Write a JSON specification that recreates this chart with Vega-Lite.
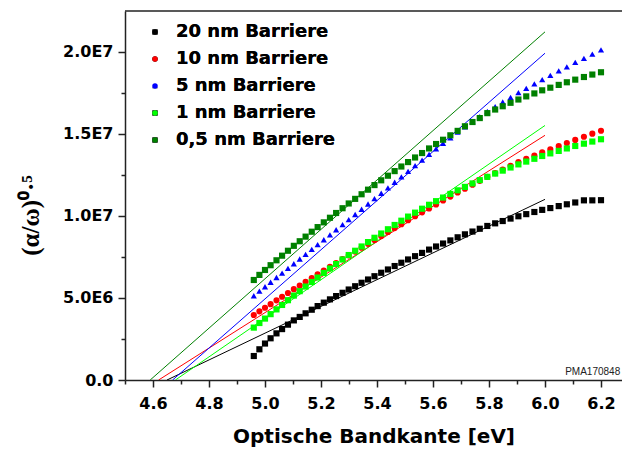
{
  "$schema": "https://vega.github.io/schema/vega-lite/v6.json",
  "width": 497,
  "height": 369,
  "autosize": {"type": "none"},
  "padding": {"left": 125, "top": 11, "right": 0, "bottom": 72},
  "background": "white",
  "config": {
    "view": {"stroke": null},
    "axis": {"domainColor": "#222", "domainWidth": 1.5, "tickColor": "#222", "tickWidth": 1.5, "grid": false, "labelColor": "black", "titleColor": "black"}
  },
  "datasets": {
    "pts": [
      {"s":"20 nm Barriere","E":4.960,"v":1460000},{"s":"20 nm Barriere","E":4.980,"v":1870000},{"s":"20 nm Barriere","E":5.000,"v":2220000},{"s":"20 nm Barriere","E":5.020,"v":2540000},{"s":"20 nm Barriere","E":5.041,"v":2840000},{"s":"20 nm Barriere","E":5.061,"v":3100000},{"s":"20 nm Barriere","E":5.082,"v":3370000},{"s":"20 nm Barriere","E":5.103,"v":3630000},{"s":"20 nm Barriere","E":5.124,"v":3840000},{"s":"20 nm Barriere","E":5.145,"v":4060000},{"s":"20 nm Barriere","E":5.167,"v":4280000},{"s":"20 nm Barriere","E":5.188,"v":4500000},{"s":"20 nm Barriere","E":5.210,"v":4710000},{"s":"20 nm Barriere","E":5.232,"v":4910000},{"s":"20 nm Barriere","E":5.254,"v":5110000},{"s":"20 nm Barriere","E":5.277,"v":5310000},{"s":"20 nm Barriere","E":5.299,"v":5510000},{"s":"20 nm Barriere","E":5.322,"v":5710000},{"s":"20 nm Barriere","E":5.345,"v":5920000},{"s":"20 nm Barriere","E":5.368,"v":6120000},{"s":"20 nm Barriere","E":5.391,"v":6320000},{"s":"20 nm Barriere","E":5.415,"v":6530000},{"s":"20 nm Barriere","E":5.439,"v":6730000},{"s":"20 nm Barriere","E":5.463,"v":6940000},{"s":"20 nm Barriere","E":5.487,"v":7140000},{"s":"20 nm Barriere","E":5.511,"v":7340000},{"s":"20 nm Barriere","E":5.536,"v":7540000},{"s":"20 nm Barriere","E":5.561,"v":7740000},{"s":"20 nm Barriere","E":5.586,"v":7940000},{"s":"20 nm Barriere","E":5.611,"v":8130000},{"s":"20 nm Barriere","E":5.636,"v":8310000},{"s":"20 nm Barriere","E":5.662,"v":8500000},{"s":"20 nm Barriere","E":5.688,"v":8690000},{"s":"20 nm Barriere","E":5.714,"v":8870000},{"s":"20 nm Barriere","E":5.741,"v":9040000},{"s":"20 nm Barriere","E":5.767,"v":9210000},{"s":"20 nm Barriere","E":5.794,"v":9380000},{"s":"20 nm Barriere","E":5.822,"v":9540000},{"s":"20 nm Barriere","E":5.849,"v":9680000},{"s":"20 nm Barriere","E":5.877,"v":9830000},{"s":"20 nm Barriere","E":5.905,"v":9970000},{"s":"20 nm Barriere","E":5.933,"v":10100000},{"s":"20 nm Barriere","E":5.962,"v":10230000},{"s":"20 nm Barriere","E":5.990,"v":10360000},{"s":"20 nm Barriere","E":6.019,"v":10470000},{"s":"20 nm Barriere","E":6.049,"v":10590000},{"s":"20 nm Barriere","E":6.078,"v":10700000},{"s":"20 nm Barriere","E":6.108,"v":10810000},{"s":"20 nm Barriere","E":6.139,"v":10940000},{"s":"20 nm Barriere","E":6.169,"v":10940000},{"s":"20 nm Barriere","E":6.200,"v":10950000},
      {"s":"10 nm Barriere","E":4.960,"v":3960000},{"s":"10 nm Barriere","E":4.980,"v":4180000},{"s":"10 nm Barriere","E":5.000,"v":4400000},{"s":"10 nm Barriere","E":5.020,"v":4620000},{"s":"10 nm Barriere","E":5.041,"v":4850000},{"s":"10 nm Barriere","E":5.061,"v":5070000},{"s":"10 nm Barriere","E":5.082,"v":5300000},{"s":"10 nm Barriere","E":5.103,"v":5530000},{"s":"10 nm Barriere","E":5.124,"v":5750000},{"s":"10 nm Barriere","E":5.145,"v":5980000},{"s":"10 nm Barriere","E":5.167,"v":6210000},{"s":"10 nm Barriere","E":5.188,"v":6430000},{"s":"10 nm Barriere","E":5.210,"v":6660000},{"s":"10 nm Barriere","E":5.232,"v":6890000},{"s":"10 nm Barriere","E":5.254,"v":7120000},{"s":"10 nm Barriere","E":5.277,"v":7360000},{"s":"10 nm Barriere","E":5.299,"v":7590000},{"s":"10 nm Barriere","E":5.322,"v":7820000},{"s":"10 nm Barriere","E":5.345,"v":8060000},{"s":"10 nm Barriere","E":5.368,"v":8290000},{"s":"10 nm Barriere","E":5.391,"v":8530000},{"s":"10 nm Barriere","E":5.415,"v":8770000},{"s":"10 nm Barriere","E":5.439,"v":9010000},{"s":"10 nm Barriere","E":5.463,"v":9250000},{"s":"10 nm Barriere","E":5.487,"v":9490000},{"s":"10 nm Barriere","E":5.511,"v":9730000},{"s":"10 nm Barriere","E":5.536,"v":9970000},{"s":"10 nm Barriere","E":5.561,"v":10210000},{"s":"10 nm Barriere","E":5.586,"v":10450000},{"s":"10 nm Barriere","E":5.611,"v":10690000},{"s":"10 nm Barriere","E":5.636,"v":10930000},{"s":"10 nm Barriere","E":5.662,"v":11170000},{"s":"10 nm Barriere","E":5.688,"v":11420000},{"s":"10 nm Barriere","E":5.714,"v":11650000},{"s":"10 nm Barriere","E":5.741,"v":11890000},{"s":"10 nm Barriere","E":5.767,"v":12130000},{"s":"10 nm Barriere","E":5.794,"v":12370000},{"s":"10 nm Barriere","E":5.822,"v":12600000},{"s":"10 nm Barriere","E":5.849,"v":12820000},{"s":"10 nm Barriere","E":5.877,"v":13040000},{"s":"10 nm Barriere","E":5.905,"v":13270000},{"s":"10 nm Barriere","E":5.933,"v":13470000},{"s":"10 nm Barriere","E":5.962,"v":13660000},{"s":"10 nm Barriere","E":5.990,"v":13860000},{"s":"10 nm Barriere","E":6.019,"v":14050000},{"s":"10 nm Barriere","E":6.049,"v":14240000},{"s":"10 nm Barriere","E":6.078,"v":14430000},{"s":"10 nm Barriere","E":6.108,"v":14620000},{"s":"10 nm Barriere","E":6.139,"v":14810000},{"s":"10 nm Barriere","E":6.169,"v":15000000},{"s":"10 nm Barriere","E":6.200,"v":15180000},
      {"s":"5 nm Barriere","E":4.960,"v":5130000},{"s":"5 nm Barriere","E":4.980,"v":5410000},{"s":"5 nm Barriere","E":5.000,"v":5680000},{"s":"5 nm Barriere","E":5.020,"v":5950000},{"s":"5 nm Barriere","E":5.041,"v":6240000},{"s":"5 nm Barriere","E":5.061,"v":6510000},{"s":"5 nm Barriere","E":5.082,"v":6800000},{"s":"5 nm Barriere","E":5.103,"v":7080000},{"s":"5 nm Barriere","E":5.124,"v":7370000},{"s":"5 nm Barriere","E":5.145,"v":7650000},{"s":"5 nm Barriere","E":5.167,"v":7950000},{"s":"5 nm Barriere","E":5.188,"v":8240000},{"s":"5 nm Barriere","E":5.210,"v":8540000},{"s":"5 nm Barriere","E":5.232,"v":8840000},{"s":"5 nm Barriere","E":5.254,"v":9150000},{"s":"5 nm Barriere","E":5.277,"v":9460000},{"s":"5 nm Barriere","E":5.299,"v":9770000},{"s":"5 nm Barriere","E":5.322,"v":10080000},{"s":"5 nm Barriere","E":5.345,"v":10400000},{"s":"5 nm Barriere","E":5.368,"v":10720000},{"s":"5 nm Barriere","E":5.391,"v":11040000},{"s":"5 nm Barriere","E":5.415,"v":11370000},{"s":"5 nm Barriere","E":5.439,"v":11700000},{"s":"5 nm Barriere","E":5.463,"v":12040000},{"s":"5 nm Barriere","E":5.487,"v":12370000},{"s":"5 nm Barriere","E":5.511,"v":12700000},{"s":"5 nm Barriere","E":5.536,"v":13050000},{"s":"5 nm Barriere","E":5.561,"v":13390000},{"s":"5 nm Barriere","E":5.586,"v":13740000},{"s":"5 nm Barriere","E":5.611,"v":14080000},{"s":"5 nm Barriere","E":5.636,"v":14410000},{"s":"5 nm Barriere","E":5.662,"v":14750000},{"s":"5 nm Barriere","E":5.688,"v":15090000},{"s":"5 nm Barriere","E":5.714,"v":15410000},{"s":"5 nm Barriere","E":5.741,"v":15730000},{"s":"5 nm Barriere","E":5.767,"v":16030000},{"s":"5 nm Barriere","E":5.794,"v":16350000},{"s":"5 nm Barriere","E":5.822,"v":16650000},{"s":"5 nm Barriere","E":5.849,"v":16930000},{"s":"5 nm Barriere","E":5.877,"v":17210000},{"s":"5 nm Barriere","E":5.905,"v":17500000},{"s":"5 nm Barriere","E":5.933,"v":17760000},{"s":"5 nm Barriere","E":5.962,"v":18030000},{"s":"5 nm Barriere","E":5.990,"v":18290000},{"s":"5 nm Barriere","E":6.019,"v":18550000},{"s":"5 nm Barriere","E":6.049,"v":18820000},{"s":"5 nm Barriere","E":6.078,"v":19070000},{"s":"5 nm Barriere","E":6.108,"v":19340000},{"s":"5 nm Barriere","E":6.139,"v":19590000},{"s":"5 nm Barriere","E":6.169,"v":19840000},{"s":"5 nm Barriere","E":6.200,"v":20100000},
      {"s":"1 nm Barriere","E":4.960,"v":3190000},{"s":"1 nm Barriere","E":4.980,"v":3470000},{"s":"1 nm Barriere","E":5.000,"v":3740000},{"s":"1 nm Barriere","E":5.020,"v":4010000},{"s":"1 nm Barriere","E":5.041,"v":4300000},{"s":"1 nm Barriere","E":5.061,"v":4570000},{"s":"1 nm Barriere","E":5.082,"v":4860000},{"s":"1 nm Barriere","E":5.103,"v":5140000},{"s":"1 nm Barriere","E":5.124,"v":5410000},{"s":"1 nm Barriere","E":5.145,"v":5690000},{"s":"1 nm Barriere","E":5.167,"v":5970000},{"s":"1 nm Barriere","E":5.188,"v":6240000},{"s":"1 nm Barriere","E":5.210,"v":6520000},{"s":"1 nm Barriere","E":5.232,"v":6790000},{"s":"1 nm Barriere","E":5.254,"v":7060000},{"s":"1 nm Barriere","E":5.277,"v":7340000},{"s":"1 nm Barriere","E":5.299,"v":7610000},{"s":"1 nm Barriere","E":5.322,"v":7870000},{"s":"1 nm Barriere","E":5.345,"v":8130000},{"s":"1 nm Barriere","E":5.368,"v":8400000},{"s":"1 nm Barriere","E":5.391,"v":8660000},{"s":"1 nm Barriere","E":5.415,"v":8920000},{"s":"1 nm Barriere","E":5.439,"v":9180000},{"s":"1 nm Barriere","E":5.463,"v":9440000},{"s":"1 nm Barriere","E":5.487,"v":9700000},{"s":"1 nm Barriere","E":5.511,"v":9950000},{"s":"1 nm Barriere","E":5.536,"v":10190000},{"s":"1 nm Barriere","E":5.561,"v":10430000},{"s":"1 nm Barriere","E":5.586,"v":10670000},{"s":"1 nm Barriere","E":5.611,"v":10890000},{"s":"1 nm Barriere","E":5.636,"v":11110000},{"s":"1 nm Barriere","E":5.662,"v":11330000},{"s":"1 nm Barriere","E":5.688,"v":11550000},{"s":"1 nm Barriere","E":5.714,"v":11760000},{"s":"1 nm Barriere","E":5.741,"v":11970000},{"s":"1 nm Barriere","E":5.767,"v":12170000},{"s":"1 nm Barriere","E":5.794,"v":12370000},{"s":"1 nm Barriere","E":5.822,"v":12570000},{"s":"1 nm Barriere","E":5.849,"v":12750000},{"s":"1 nm Barriere","E":5.877,"v":12940000},{"s":"1 nm Barriere","E":5.905,"v":13130000},{"s":"1 nm Barriere","E":5.933,"v":13300000},{"s":"1 nm Barriere","E":5.962,"v":13470000},{"s":"1 nm Barriere","E":5.990,"v":13640000},{"s":"1 nm Barriere","E":6.019,"v":13800000},{"s":"1 nm Barriere","E":6.049,"v":13950000},{"s":"1 nm Barriere","E":6.078,"v":14100000},{"s":"1 nm Barriere","E":6.108,"v":14250000},{"s":"1 nm Barriere","E":6.139,"v":14390000},{"s":"1 nm Barriere","E":6.169,"v":14520000},{"s":"1 nm Barriere","E":6.200,"v":14660000},
      {"s":"0,5 nm Barriere","E":4.960,"v":6090000},{"s":"0,5 nm Barriere","E":4.980,"v":6400000},{"s":"0,5 nm Barriere","E":5.000,"v":6700000},{"s":"0,5 nm Barriere","E":5.020,"v":6990000},{"s":"0,5 nm Barriere","E":5.041,"v":7290000},{"s":"0,5 nm Barriere","E":5.061,"v":7570000},{"s":"0,5 nm Barriere","E":5.082,"v":7870000},{"s":"0,5 nm Barriere","E":5.103,"v":8170000},{"s":"0,5 nm Barriere","E":5.124,"v":8450000},{"s":"0,5 nm Barriere","E":5.145,"v":8730000},{"s":"0,5 nm Barriere","E":5.167,"v":9030000},{"s":"0,5 nm Barriere","E":5.188,"v":9310000},{"s":"0,5 nm Barriere","E":5.210,"v":9600000},{"s":"0,5 nm Barriere","E":5.232,"v":9880000},{"s":"0,5 nm Barriere","E":5.254,"v":10170000},{"s":"0,5 nm Barriere","E":5.277,"v":10460000},{"s":"0,5 nm Barriere","E":5.299,"v":10750000},{"s":"0,5 nm Barriere","E":5.322,"v":11030000},{"s":"0,5 nm Barriere","E":5.345,"v":11310000},{"s":"0,5 nm Barriere","E":5.368,"v":11590000},{"s":"0,5 nm Barriere","E":5.391,"v":11870000},{"s":"0,5 nm Barriere","E":5.415,"v":12160000},{"s":"0,5 nm Barriere","E":5.439,"v":12440000},{"s":"0,5 nm Barriere","E":5.463,"v":12720000},{"s":"0,5 nm Barriere","E":5.487,"v":13000000},{"s":"0,5 nm Barriere","E":5.511,"v":13270000},{"s":"0,5 nm Barriere","E":5.536,"v":13550000},{"s":"0,5 nm Barriere","E":5.561,"v":13820000},{"s":"0,5 nm Barriere","E":5.586,"v":14100000},{"s":"0,5 nm Barriere","E":5.611,"v":14370000},{"s":"0,5 nm Barriere","E":5.636,"v":14630000},{"s":"0,5 nm Barriere","E":5.662,"v":14900000},{"s":"0,5 nm Barriere","E":5.688,"v":15170000},{"s":"0,5 nm Barriere","E":5.714,"v":15450000},{"s":"0,5 nm Barriere","E":5.741,"v":15710000},{"s":"0,5 nm Barriere","E":5.767,"v":15950000},{"s":"0,5 nm Barriere","E":5.794,"v":16250000},{"s":"0,5 nm Barriere","E":5.822,"v":16470000},{"s":"0,5 nm Barriere","E":5.849,"v":16670000},{"s":"0,5 nm Barriere","E":5.877,"v":16880000},{"s":"0,5 nm Barriere","E":5.905,"v":17080000},{"s":"0,5 nm Barriere","E":5.933,"v":17270000},{"s":"0,5 nm Barriere","E":5.962,"v":17450000},{"s":"0,5 nm Barriere","E":5.990,"v":17640000},{"s":"0,5 nm Barriere","E":6.019,"v":17800000},{"s":"0,5 nm Barriere","E":6.049,"v":17970000},{"s":"0,5 nm Barriere","E":6.078,"v":18130000},{"s":"0,5 nm Barriere","E":6.108,"v":18290000},{"s":"0,5 nm Barriere","E":6.139,"v":18450000},{"s":"0,5 nm Barriere","E":6.169,"v":18600000},{"s":"0,5 nm Barriere","E":6.200,"v":18740000}
    ],
    "fits": [
      {"s":"20 nm Barriere","E":4.650,"v":0},{"s":"20 nm Barriere","E":6.0,"v":11000000},
      {"s":"10 nm Barriere","E":4.620,"v":0},{"s":"10 nm Barriere","E":6.0,"v":14900000},
      {"s":"5 nm Barriere","E":4.670,"v":0},{"s":"5 nm Barriere","E":6.0,"v":19900000},
      {"s":"1 nm Barriere","E":4.680,"v":0},{"s":"1 nm Barriere","E":6.0,"v":15500000},
      {"s":"0,5 nm Barriere","E":4.590,"v":0},{"s":"0,5 nm Barriere","E":6.0,"v":21200000}
    ],
    "note": [{"E": 6.072, "v": 300000, "t": "PMA170848"}]
  },
  "layer": [
    {
      "data": {"name": "fits"},
      "mark": {"type": "line", "strokeWidth": 1, "clip": true},
      "encoding": {
        "x": {"field": "E", "type": "quantitative", "scale": {"domain": [4.5, 6.275], "nice": false, "zero": false},
          "axis": {
            "orient": "bottom",
            "title": "Optische Bandkante [eV]",
            "values": [4.6,4.8,5.0,5.2,5.4,5.6,5.8,6.0,6.2],
            "format": ".1f",
            "tickSize": 7,
            "labelOverlap": false,
            "labelFont": "DejaVu Sans", "labelFontSize": 16, "labelFontWeight": "bold", "labelPadding": 8,
            "titleFont": "DejaVu Sans", "titleFontSize": 20, "titleFontWeight": "bold", "titlePadding": 15
          }
        },
        "y": {"field": "v", "type": "quantitative", "scale": {"domain": [0, 22470000], "nice": false, "zero": true},
          "axis": {
            "orient": "left",
            "title": "(α/ω)⁰·⁵",
            "values": [0,5000000,10000000,15000000,20000000],
            "labelExpr": "datum.value == 0 ? '0.0' : replace(format(datum.value, '.1e'), 'e+', 'E')",
            "tickSize": 7,
            "labelOverlap": false,
            "labelFont": "DejaVu Sans", "labelFontSize": 16, "labelFontWeight": "bold", "labelPadding": 5,
            "titleFont": "Liberation Serif", "titleFontSize": 25, "titleFontWeight": "bold",
            "titleX": -82, "titleY": 204, "titleAngle": 270, "titleBaseline": "bottom", "titleAlign": "center"
          }
        },
        "color": {"field": "s", "type": "nominal", "legend": null,
          "scale": {"domain": ["20 nm Barriere","10 nm Barriere","5 nm Barriere","1 nm Barriere","0,5 nm Barriere"], "range": ["#000000","#ff0000","#0000ff","#00ff00","#008000"]}},
        "detail": {"field": "s"}
      }
    },
    {
      "data": {"name": "pts"},
      "mark": {"type": "point", "filled": true, "opacity": 1, "size": 38},
      "encoding": {
        "x": {"field": "E", "type": "quantitative", "axis": null},
        "y": {"field": "v", "type": "quantitative", "axis": null},
        "color": {"field": "s", "type": "nominal",
          "scale": {"domain": ["20 nm Barriere","10 nm Barriere","5 nm Barriere","1 nm Barriere","0,5 nm Barriere"], "range": ["#000000","#ff0000","#0000ff","#00ff00","#008000"]},
          "legend": {"orient": "none", "legendX": 21, "legendY": 12, "title": null, "padding": 0,
            "labelFont": "DejaVu Sans", "labelFontSize": 18, "labelFontWeight": "bold", "labelColor": "black",
            "symbolSize": 30, "rowPadding": 9, "labelOffset": 12, "symbolStrokeWidth": 0}},
        "shape": {"field": "s", "type": "nominal",
          "scale": {"domain": ["20 nm Barriere","10 nm Barriere","5 nm Barriere","1 nm Barriere","0,5 nm Barriere"], "range": ["square","circle","triangle-up","square","square"]},
          "legend": {"orient": "none", "legendX": 21, "legendY": 12, "title": null, "padding": 0,
            "labelFont": "DejaVu Sans", "labelFontSize": 18, "labelFontWeight": "bold", "labelColor": "black",
            "symbolSize": 30, "rowPadding": 9, "labelOffset": 12, "symbolStrokeWidth": 0}}
      }
    },
    {
      "data": {"values": [{"top": 22470000}]},
      "mark": {"type": "rule", "color": "#222", "strokeWidth": 1.5},
      "encoding": {"y": {"field": "top", "type": "quantitative", "axis": null}}
    },
    {
      "data": {"name": "note"},
      "mark": {"type": "text", "align": "left", "baseline": "alphabetic", "font": "Liberation Sans", "fontSize": 10, "color": "#222"},
      "encoding": {
        "x": {"field": "E", "type": "quantitative",
          "axis": {"orient": "bottom", "values": [4.5,4.7,4.9,5.1,5.3,5.5,5.7,5.9,6.1], "tickSize": 4, "labels": false, "domain": false, "title": null}},
        "y": {"field": "v", "type": "quantitative",
          "axis": {"orient": "left", "values": [2500000,7500000,12500000,17500000], "tickSize": 4, "labels": false, "domain": false, "title": null}},
        "text": {"field": "t"}
      }
    }
  ],
  "resolve": {"scale": {"color": "independent"}, "legend": {"color": "independent"}, "axis": {"x": "independent", "y": "independent"}}
}
